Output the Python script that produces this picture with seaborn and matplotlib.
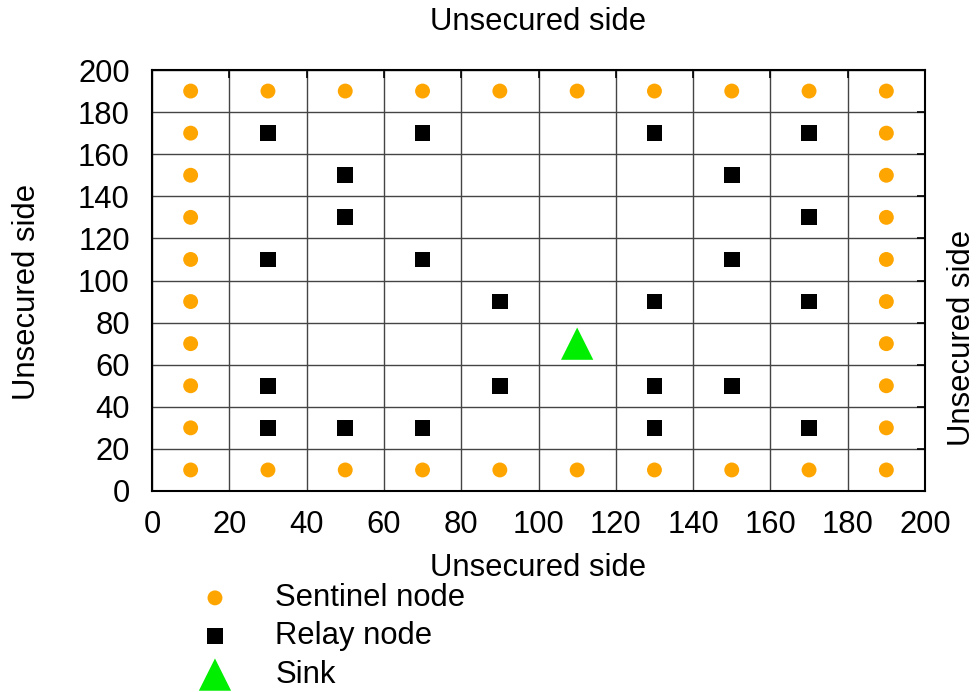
import matplotlib
matplotlib.use("Agg")
import matplotlib.pyplot as plt
import seaborn as sns
import pandas as pd

sns.set_style("white")
plt.rcParams['font.family'] = ['Liberation Sans', 'DejaVu Sans']
plt.rcParams['text.color'] = 'black'

sentinel_x = [10, 30, 50, 70, 90, 110, 130, 150, 170, 190,
              10, 30, 50, 70, 90, 110, 130, 150, 170, 190,
              10, 10, 10, 10, 10, 10, 10, 10,
              190, 190, 190, 190, 190, 190, 190, 190]
sentinel_y = [10, 10, 10, 10, 10, 10, 10, 10, 10, 10,
              190, 190, 190, 190, 190, 190, 190, 190, 190, 190,
              30, 50, 70, 90, 110, 130, 150, 170,
              30, 50, 70, 90, 110, 130, 150, 170]

relay_x = [30, 70, 130, 170, 50, 150, 50, 170, 30, 70, 150,
           90, 130, 170, 30, 90, 130, 150, 30, 50, 70, 130, 170]
relay_y = [170, 170, 170, 170, 150, 150, 130, 130, 110, 110, 110,
           90, 90, 90, 50, 50, 50, 50, 30, 30, 30, 30, 30]

sink_x = [110]
sink_y = [70]

ticks = [0, 20, 40, 60, 80, 100, 120, 140, 160, 180, 200]

sent = pd.DataFrame({"x": sentinel_x, "y": sentinel_y})
rel = pd.DataFrame({"x": relay_x, "y": relay_y})
snk = pd.DataFrame({"x": sink_x, "y": sink_y})

fig = plt.figure(figsize=(9.77, 6.92), dpi=100)
ax = fig.add_axes([152/977, 1-491/692, (925-152)/977, (491-70)/692])

ax.set_axisbelow(True)
ax.grid(True, color="#444444", linewidth=1.0)

sns.scatterplot(data=sent, x="x", y="y", ax=ax, marker="o", s=115,
                color="#FFA500", edgecolor="none", label="Sentinel node")
sns.scatterplot(data=rel, x="x", y="y", ax=ax, marker="s", s=130,
                color="black", edgecolor="none", label="Relay node")
sns.scatterplot(data=snk, x="x", y="y", ax=ax, marker="^", s=540,
                color="#00EE00", edgecolor="none", label="Sink")

ax.set_xlim(0, 200)
ax.set_ylim(0, 200)
ax.set_xticks(ticks)
ax.set_yticks(ticks)
fs = 22.3
ax.tick_params(direction="in", length=6, width=1.2, labelsize=fs,
               top=True, right=True, colors="black", labelcolor="black")
ax.tick_params(axis="x", pad=14)
ax.tick_params(axis="y", pad=16)
for sp in ax.spines.values():
    sp.set_color("black")
    sp.set_linewidth(1.5)

ax.set_xlabel("")
ax.set_ylabel("")
fig.text(538/977, 1-568/692, "Unsecured side", ha="center", va="center", fontsize=fs)
fig.text(538/977, 1-22/692, "Unsecured side", ha="center", va="center", fontsize=fs)
fig.text(27/977, 1-292/692, "Unsecured side", ha="center", va="center", fontsize=fs, rotation=90)
fig.text(962/977, 1-338/692, "Unsecured side", ha="center", va="center", fontsize=fs, rotation=90)

ax.legend_.remove()
h, l = ax.get_legend_handles_labels()
fig.legend(h, l, loc="upper left", bbox_to_anchor=(184/977, 1-583/692),
           frameon=False, fontsize=fs, handlelength=2.0, handletextpad=0.95,
           labelspacing=0.27, borderpad=0, borderaxespad=0)

fig.savefig("out.png", dpi=100, facecolor="white")
